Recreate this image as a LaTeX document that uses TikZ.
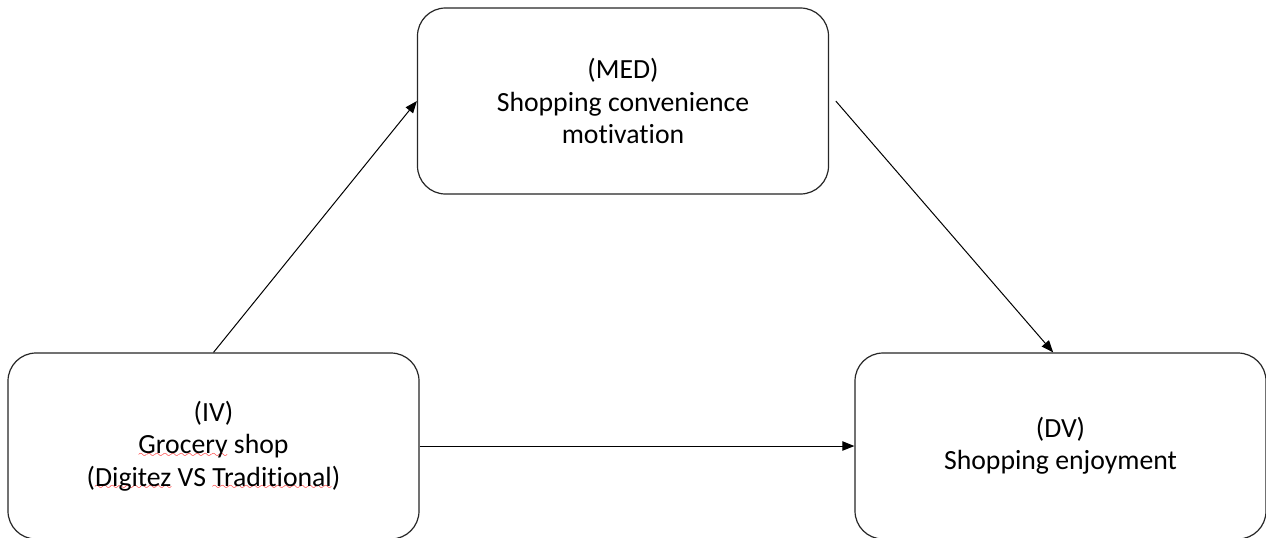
\documentclass[tikz,border=0pt]{standalone}
\usepackage{fontspec}
\setmainfont{Carlito}[Ligatures=CommonOff]
\usetikzlibrary{arrows.meta,shapes,positioning}

\font\spellwave=lasy8
\newcommand{\spellerr}[1]{\setbox0\hbox{#1}\rlap{\lower2.6pt\hbox to\wd0{\color{red}\xleaders\hbox{\spellwave\char58}\hfil}}\box0\relax}

\begin{document}
\begin{tikzpicture}[x=0.75pt, y=-0.75pt]
                \tikzstyle{block} = [rectangle, draw=black!85, fill=white,
                line width=0.9pt, align=center, inner sep=0pt,
                rounded corners=21pt, minimum width=308.25pt, minimum height=139.5pt,
                font=\fontsize{20.8}{24.3}\selectfont]
                \tikzstyle{arrow} = [line width=0.75pt, -{Triangle[length=9pt,width=7pt]}]

                \useasboundingbox (0,0) rectangle (1266,537);

                \node [block] (iv) at (213.5,446) {(IV)\\\spellerr{Grocery} shop\\(\spellerr{Digitez} VS \spellerr{Traditional})};
                \node [block] (med) at (623,101) {(MED)\\Shopping convenience\\motivation};
                \node [block] (dv) at (1060.5,446) {(DV)\\Shopping enjoyment};

                \draw [arrow] (iv.north) -- (med.west);
                \draw [arrow] ([xshift=5pt]med.east) -- ([xshift=-5.5pt]dv.north);
                \draw [arrow] (iv.east) -- (dv.west);
            \end{tikzpicture}
\end{document}
